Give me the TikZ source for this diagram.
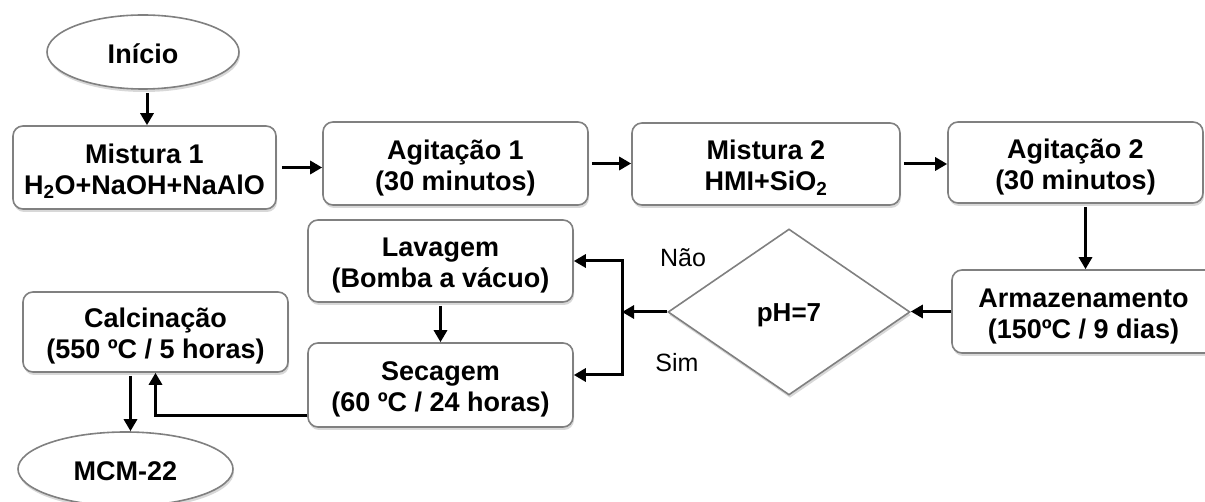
\documentclass[tikz,border=0pt]{standalone}
\usepackage{fontspec}
\setmainfont{Liberation Sans}
\usetikzlibrary{shapes.geometric,arrows.meta,shadows}
\newcommand{\twolines}[2]{\raisebox{-5pt}[\height][\depth]{\begin{tabular}{@{}c@{}}#1\\#2\end{tabular}}}
\begin{document}
\begin{tikzpicture}[x=1pt,y=-1pt,
  shade/.style={drop shadow={shadow xshift=1pt, shadow yshift=-3pt, opacity=0.22, fill=black!70}},
  box/.style={draw=black!50, line width=1.6pt, rounded corners=10pt, fill=white,
    inner sep=0pt, minimum width=265pt, minimum height=83pt,
    font=\fontsize{27}{31}\selectfont\bfseries, shade},
  oval/.style={ellipse, draw=black!50, line width=1.6pt, fill=white, inner sep=0pt,
    font=\fontsize{27}{31}\selectfont\bfseries, shade},
  decision/.style={diamond, draw=black!50, line width=1.6pt, fill=white, inner sep=0pt,
    font=\fontsize{26}{30}\selectfont\bfseries, shade},
  lbl/.style={font=\fontsize{25}{29}\selectfont, inner sep=0pt},
  arr/.style={line width=3pt, -{Triangle[length=12pt,width=13pt]}, shorten <=3pt}
]
\useasboundingbox (0,0) rectangle (1205,502);

\node[oval, minimum width=192pt, minimum height=74pt] (ini) at (143,52) {\raisebox{-2pt}[\height][\depth]{Início}};
\node[box, minimum width=263pt] (m1) at (144.5,167.5) {\twolines{Mistura 1}{H\textsubscript{2}O+NaOH+NaAlO}};
\node[box] (a1) at (455.5,163.5) {\twolines{Agitação 1}{(30 minutos)}};
\node[box, minimum width=268pt, minimum height=82pt] (m2) at (766,164) {\twolines{Mistura 2}{HMI+SiO\textsubscript{2}}};
\node[box, minimum width=255pt, minimum height=81pt] (ag2) at (1075.5,162.5) {\twolines{Agitação 2}{(30 minutos)}};
\node[box, minimum width=263pt] (arm) at (1083.5,311.5) {\twolines{Armazenamento}{(150ºC / 9 dias)}};
\node[decision, minimum width=242pt, minimum height=166pt] (dia) at (789,312) {\raisebox{-3pt}[\height][\depth]{pH=7}};
\node[box, minimum height=82pt] (lav) at (440.5,261) {\twolines{Lavagem}{(Bomba a vácuo)}};
\node[box, minimum height=84pt] (sec) at (440.5,385) {\twolines{Secagem}{(60 ºC / 24 horas)}};
\node[box, minimum height=80pt] (cal) at (155.5,332) {\twolines{Calcinação}{(550 ºC / 5 horas)}};
\node[oval, minimum width=215pt, minimum height=74pt] (mcm) at (125.5,469) {\raisebox{-2pt}[\height][\depth]{MCM-22}};

\node[lbl] (nao) at (683,258) {Não};
\node[lbl] (sim) at (677,363) {Sim};

\coordinate (jt) at (622,261);
\coordinate (jm) at (622,312);
\coordinate (jb) at (622,375);
\coordinate (jb2) at (622,376.5);

\draw[arr] ([xshift=4pt]ini.south) -- ([xshift=4pt]ini.south |- m1.north);
\draw[arr, shorten <=5pt] (m1.east) -- (m1.east -| a1.west);
\draw[arr] (a1.east) -- (a1.east -| m2.west);
\draw[arr] (m2.east) -- (m2.east -| ag2.west);
\draw[arr] ([xshift=10pt]ag2.south) -- ([xshift=10pt]ag2.south |- arm.north);
\draw[arr, shorten <=0pt] (arm.west) -- (arm.west -| dia.east);
\draw[arr, shorten <=0pt] (dia.west) -- (jm);
\draw[arr, shorten <=0pt] (jb2) -- (jt) -- (lav.east);
\draw[arr, shorten <=0pt] (jb) -- (jb -| sec.east);
\draw[arr] (lav.south) -- (sec.north);
\draw[arr, shorten <=0pt] ([yshift=-31pt]sec.west) -| (cal.south);
\draw[arr] ([xshift=-25pt]cal.south) -- ([xshift=-25pt]cal.south |- mcm.north);
\end{tikzpicture}
\end{document}
